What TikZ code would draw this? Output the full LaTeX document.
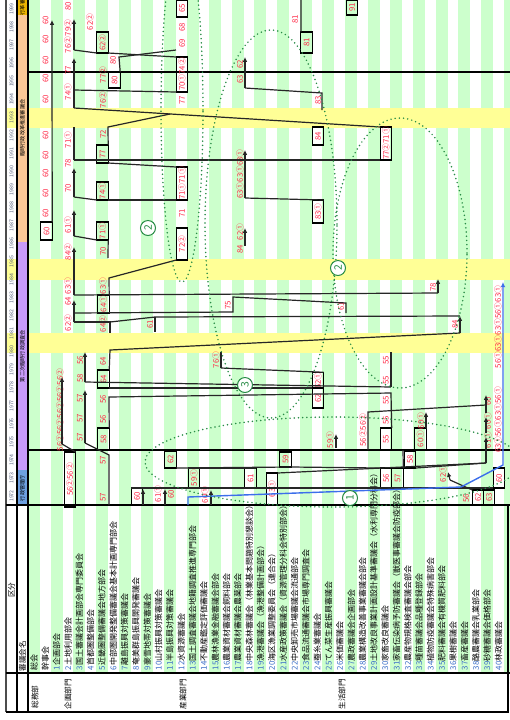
\documentclass[tikz,border=0pt]{standalone}
\usepackage{graphicx}
\usepackage{fontspec}
\setmainfont{Noto Sans CJK JP}
\usetikzlibrary{arrows.meta,positioning,calc,shapes.geometric}
\definecolor{stripegreen}{RGB}{204,255,204}
\definecolor{bandyellow}{RGB}{255,255,150}
\definecolor{eragold}{RGB}{235,180,0}
\definecolor{eraorange}{RGB}{250,200,150}
\definecolor{erapurple}{RGB}{200,155,250}
\definecolor{erablue}{RGB}{110,160,225}
\definecolor{valred}{RGB}{255,40,70}
\definecolor{grpgreen}{RGB}{40,140,70}
\definecolor{flowblue}{RGB}{60,110,235}
\definecolor{yeargray}{RGB}{80,90,120}
\definecolor{numblue}{RGB}{60,110,200}
\newcommand{\up}[1]{\rotatebox{90}{#1}}

\begin{document}
\begin{tikzpicture}[
  x=0.5pt,y=-0.5pt,
  every node/.style={inner sep=0pt,outer sep=0pt},
  val/.style={text=valred,font=\fontsize{3.9}{3.9}\selectfont},
  valbox/.style={val,draw=black,line width=0.6pt,minimum width=5.7pt},
  gridline/.style={draw=black,line width=0.65pt},
  flow/.style={draw=black!85,line width=0.6pt},
  upflow/.style={flow,-{Latex[length=2.4pt,width=2.3pt]}},
  blueflow/.style={draw=flowblue,line width=0.7pt,-{Latex[length=2.6pt,width=2.4pt]}},
  grpring/.style={ellipse,draw=grpgreen,line width=0.85pt,dash pattern=on 0pt off 2.1pt,line cap=round},
  grpnum/.style={circle,draw=grpgreen,text=grpgreen,line width=0.5pt,minimum size=7.5pt,
                 font=\fontsize{5.2}{5.2}\selectfont},
  yearlbl/.style={text=yeargray,font=\fontsize{2.6}{2.6}\selectfont},
  eralbl/.style={font=\fontsize{2.6}{2.6}\selectfont},
  colname/.style={anchor=south,font=\fontsize{4}{4}\selectfont},
  hdrlbl/.style={font=\fontsize{3.8}{3.8}\selectfont},
]
  \useasboundingbox (0,0) rectangle (510,720);
  \clip (0,0) rectangle (510,720);
  % stripes
  \foreach \k in {0,...,21} \fill[stripegreen] ({28+22.65*\k},0) rectangle ++(12,673);
  % highlighted years
  \foreach \ya/\yb in {108/128,259/280,333/353} {
    \fill[bandyellow] (28,\ya) rectangle (510,\yb);
    \fill[bandyellow] (6,\ya) rectangle (17,\yb);
  }
  % era strip
  \fill[eragold] (17,0) rectangle (28,15);
  \fill[eraorange] (17,15) rectangle (28,242);
  \fill[erapurple] (17,242) rectangle (28,470);
  \fill[erablue] (17,470) rectangle (28,505);
  \node[eralbl] (era0) at (22.5,7.5) {\up{行革審}};
  \node[eralbl] (era1) at (22.5,128) {\up{臨時行政改革推進審議会}};
  \node[eralbl] (era2) at (22.5,356) {\up{第二次臨時行政調査会}};
  \node[eralbl] (era3) at (22.5,488) {\up{行政管理庁}};
  % year rows
  \foreach \i in {0,...,27} {
    \pgfmathtruncatemacro{\yr}{1999-\i}
    \node[yearlbl] (yr\i) at (11.5,{9+18.04*\i}) {\up{\yr}};
  }
  % frame
  \draw[gridline,line width=1.1pt,draw=black!70] (6,0) -- (6,712);
  \draw[gridline] (17,0) -- (17,712);
  \draw[gridline] (28,0) -- (28,712);
  \draw[gridline] (28,72) -- (510,72);
  \draw[gridline,line width=0.85pt] (28,450) -- (510,450);
  \draw[gridline] (6,505) -- (510,505);
  \draw[gridline] (6,673) -- (510,673);
  \draw[gridline,line width=0.9pt] (6,712) -- (508,712) -- (508,505);
  % headings
  \node[hdrlbl] (hdr1) at (11.5,590) {\up{区分}};
  \node[hdrlbl] (hdr2) at (22.5,656) {\up{審議会名}};
  \node[hdrlbl] (grp1) at (35,697) {\up{総務部}};
  \node[hdrlbl] (grp2) at (68,694) {\up{企画部門}};
  \node[hdrlbl] (grp3) at (183,694) {\up{産業部門}};
  \node[hdrlbl] (grp4) at (342,694) {\up{生活部門}};
  % council names
  \foreach \i/\t in {0/総会,1/幹事会,
      2/\textcolor{numblue}{1}企画部会,3/\textcolor{numblue}{2}土地利用部会,
      4/\textcolor{numblue}{3}国土審議会計画部会専門委員会,5/\textcolor{numblue}{4}首都圏整備部会,
      6/\textcolor{numblue}{5}近畿圏整備審議会地方部会,7/\textcolor{numblue}{6}中部圏開発整備審議会基本計画専門部会,
      8/\textcolor{numblue}{7}離島振興対策審議会,9/\textcolor{numblue}{8}奄美群島振興開発審議会,
      10/\textcolor{numblue}{9}豪雪地帯対策審議会,11/\textcolor{numblue}{10}山村振興対策審議会,
      12/\textcolor{numblue}{11}半島振興対策審議会,13/\textcolor{numblue}{12}水資源審議会,
      14/\textcolor{numblue}{13}国土調査審議会地籍調査推進専門部会,15/\textcolor{numblue}{14}不動産鑑定評価審議会,
      16/\textcolor{numblue}{15}農林漁業金融審議会部会,17/\textcolor{numblue}{16}農業資材審議会飼料部会,
      18/\textcolor{numblue}{17}農業資材審議会農薬部会,19/\textcolor{numblue}{18}中央森林審議会（林業基本問題特別懇談会）,
      20/\textcolor{numblue}{19}漁港審議会（漁港整備計画部会）,21/\textcolor{numblue}{20}海区漁業調整委員会（連合会）,
      22/\textcolor{numblue}{21}水産政策審議会（資源管理分科会特別部会）,23/\textcolor{numblue}{22}中央卸売市場審議会流通部会,
      24/\textcolor{numblue}{23}食品流通審議会市場専門調査会,25/\textcolor{numblue}{24}蚕糸業審議会,
      26/\textcolor{numblue}{25}てん菜生産振興審議会,27/\textcolor{numblue}{26}米価審議会,
      28/\textcolor{numblue}{27}農政審議会企画部会,29/\textcolor{numblue}{28}農業構造改善事業審議会部会,
      30/\textcolor{numblue}{29}土地改良事業計画設計基準審議会（水利専門分科会）,31/\textcolor{numblue}{30}家畜改良審議会,
      32/\textcolor{numblue}{31}家畜伝染病予防審議会（獣医事審議会防疫部会）,33/\textcolor{numblue}{32}農産物規格検査審議会部会,
      34/\textcolor{numblue}{33}種苗審議会品種登録部会,35/\textcolor{numblue}{34}植物防疫審議会特殊病害部会,
      36/\textcolor{numblue}{35}肥料審議会有機質肥料部会,37/\textcolor{numblue}{36}果樹審議会,
      38/\textcolor{numblue}{37}畜産審議会,39/\textcolor{numblue}{38}酪農審議会乳業部会,
      40/\textcolor{numblue}{39}砂糖審議会価格部会,41/\textcolor{numblue}{40}林政審議会}
    \node[colname] (col\i) at ({34+11.33*\i},670) {\up{\t}};

  % boxed values
  \node[valbox,minimum height=9pt] (b1) at (46.5,231) {\up{60}};
  \node[valbox,minimum height=10.5pt] (b2) at (102.5,42.5) {\up{62②}};
  \node[valbox,minimum height=8pt] (b3) at (114.5,80) {\up{80}};
  \node[valbox,minimum height=9pt] (b4) at (102.5,154) {\up{77}};
  \node[valbox,minimum height=9pt] (b5) at (102.5,191) {\up{74①}};
  \node[valbox,minimum height=9pt] (b6) at (102.5,231) {\up{71①}};
  \node[valbox,minimum height=8.5pt] (b7) at (182,8.5) {\up{65}};
  \node[valbox,minimum height=17.5pt] (b8) at (182,74.5) {\up{70①74②}};
  \node[valbox,minimum height=16.5pt] (b9) at (182,183.5) {\up{71①71①}};
  \node[valbox,minimum height=16pt] (b10) at (182,244) {\up{72②}};
  \node[valbox,minimum height=10.5pt] (b11) at (306.6,42.5) {\up{81}};
  \node[valbox,minimum height=7.5pt] (b12) at (352,7.5) {\up{91}};
  \node[valbox,minimum height=9pt] (b13) at (318,136) {\up{84}};
  \node[valbox,minimum height=11.5pt] (b14) at (318,211.5) {\up{83①}};
  \node[valbox,minimum height=16.5pt] (b15) at (386,143.5) {\up{77②71①}};
  \node[valbox,minimum height=9pt] (b16) at (103.5,304) {\up{64①}};
  \node[valbox,minimum height=9pt] (b17) at (103.5,379) {\up{64}};
  \node[valbox,minimum height=11pt] (b18) at (103.5,439) {\up{58}};
  \node[valbox,minimum height=7.5pt] (b19) at (318,380.5) {\up{62①}};
  \node[valbox,minimum height=10pt] (b20) at (318,398) {\up{62}};
  \node[valbox,minimum height=11pt] (b21) at (386,439) {\up{55}};
  \node[valbox,minimum height=11pt] (b22) at (420.5,439) {\up{60①}};
  \node[valbox,minimum height=27.5pt] (b23) at (70,479.5) {\up{56②56②}};
  \node[valbox,minimum height=8.5pt] (b24) at (137,496.5) {\up{60}};
  \node[valbox,minimum height=10pt] (b25) at (386,478) {\up{56}};
  \node[valbox,minimum height=10pt] (b26) at (397.6,478) {\up{57}};
  \node[valbox,minimum height=10pt] (b27) at (499,478) {\up{60}};
  \node[valbox,minimum height=8.5pt] (b28) at (170.5,459.5) {\up{62}};
  \node[valbox,minimum height=7.5pt] (b29) at (285.5,459.5) {\up{59}};
  \node[valbox,minimum height=10pt] (b30) at (194,478) {\up{59①}};
  \node[valbox,minimum height=10pt] (b31) at (250.5,478) {\up{61}};
  \node[valbox,minimum height=16pt] (b32) at (272,489) {\up{63①}};
  \node[valbox,minimum height=8.5pt] (b33) at (410,459.5) {\up{58}};
  \node[valbox,minimum height=7.5pt] (b34) at (478,497.5) {\up{62}};
  \node[valbox,minimum height=7.5pt] (b35) at (489,497.5) {\up{63}};

  % plain values
  \foreach \y [count=\n] in {20,39,60,78,99,135,155,173,193,213}
    \node[val] (va\n) at (45.5,\y) {\up{60}};
  \foreach \y/\t [count=\n] in {6/80,28/79②,45/76②,70/77,92/74①,140/71①,163/78,188/70,
      225/61①,252/84②,286/63①,301/64,323/62②}
    \node[val] (vc\n) at (68,\y) {\up{\t}};
  \foreach \y/\t [count=\n] in {75/77②,100/76②,134/72,251/70,286/63①,324/64②,361/64,
      399/56,419/56,460/57,497/57}
    \node[val] (vf\n) at (103,\y) {\up{\t}};
  \foreach \y/\t [count=\n] in {360/56,378/58,398/57,418/57,437/57}
    \node[val] (vd\n) at (80,\y) {\up{\t}};
  \foreach \y/\t [count=\n] in {27/68,43/69,100/77,213/71}
    \node[val] (vm\n) at (182,\y) {\up{\t}};
  \foreach \y/\t [count=\n] in {64/62,79/63,174/63①63①63①,232/62①,249/84}
    \node[val] (vs\n) at (240,\y) {\up{\t}};
  \foreach \y/\t [count=\n] in {360/55,380/55,400/55,420/55}
    \node[val] (vr\n) at (386,\y) {\up{\t}};
  \foreach \y/\t [count=\n] in {401/60,421/60①,440/61①}
    \node[val] (vt\n) at (488,\y) {\up{\t}};
  \node[val] (vb1) at (466,498) {\up{56}};
  \node[val] (ve1) at (90,22) {\up{62②}};
  \node[val] (ve2) at (113,60) {\up{80}};
  \node[val] (ve3) at (60,410) {\up{56②56②56②56②56②}};
  \node[val] (ve4) at (228,305) {\up{75}};
  \node[val] (ve5) at (216,360) {\up{76①}};
  \node[val] (ve6) at (295,19) {\up{81}};
  \node[val] (ve7) at (318,100) {\up{83}};
  \node[val] (ve8) at (330,440) {\up{59①}};
  \node[val] (ve9) at (363,430) {\up{56②56②}};
  \node[val] (ve10) at (421,421) {\up{60①}};
  \node[val] (ve11) at (433,287) {\up{78}};
  \node[val] (ve12) at (455,324) {\up{84}};
  \node[val] (ve13) at (443,474) {\up{62①}};
  \node[val] (ve14) at (158,494) {\up{61①}};
  \node[val] (ve15) at (205,495) {\up{60①}};
  \node[val] (ve16) at (498,327) {\up{56①63①63①56①63①}};
  \node[val] (ve17) at (498,420) {\up{63①56①63①56①}};
  \node[val] (ve18) at (150,324) {\up{61}};
  \node[val] (ve19) at (341,306) {\up{61}};
  \node[val] (ve20) at (171,494) {\up{60}};

  % chain points
  \coordinate (k0b) at (52,20);
  \coordinate (k1a) at (74,50);   \coordinate (k1b) at (74,19);
  \coordinate (k2a) at (74,108);  \coordinate (k2b) at (74,58);  \coordinate (k2c) at (74,90);
  \coordinate (k3a) at (74,160);  \coordinate (k3b) at (74,127);
  \coordinate (k4a) at (74,197);  \coordinate (k4b) at (74,168);
  \coordinate (k5a) at (74,236);  \coordinate (k5b) at (74,210);
  \coordinate (k6a) at (74,295);  \coordinate (k6b) at (74,247);
  \coordinate (k7a) at (74,322);  \coordinate (k7b) at (74,300);  \coordinate (k7c) at (74,313);
  \coordinate (k8a) at (119,57);  \coordinate (k8b) at (176,50);
  \coordinate (k9a) at (245,88);  \coordinate (k9b) at (245,57);  \coordinate (k9c) at (322,93);
  \coordinate (k9d) at (322,110);
  \coordinate (k10a) at (245,198); \coordinate (k10b) at (245,150);
  \coordinate (k11a) at (245,246); \coordinate (k11b) at (245,228);
  \coordinate (k12) at (301,0);
  \coordinate (k13a) at (108,127); \coordinate (k13b) at (170,114);
  \coordinate (k14a) at (233,312); \coordinate (k14b) at (233,297);
  \coordinate (k14c) at (346,303); \coordinate (k14d) at (346,313);
  \coordinate (k15a) at (438,293); \coordinate (k15b) at (438,279);
  \coordinate (k16a) at (460,333); \coordinate (k16b) at (460,316);
  \coordinate (k17a) at (110,350); \coordinate (k17b) at (109,278); \coordinate (k17c) at (108,258);
  \coordinate (k17d) at (110,322); \coordinate (k17e) at (110,333);
  \coordinate (k17f) at (155,317); \coordinate (k17g) at (155,332);
  \coordinate (k18a) at (85,382);  \coordinate (k18b) at (85,352);
  \coordinate (k19a) at (391,387); \coordinate (k19b) at (391,352);
  \coordinate (k20a) at (85,443);  \coordinate (k20b) at (85,390);  \coordinate (k20c) at (109,455);
  \coordinate (k20d) at (109,505);
  \coordinate (k21a) at (62,444);  \coordinate (k21b) at (62,377);
  \coordinate (k22a) at (109,397); \coordinate (k22b) at (391,393);
  \coordinate (k23a) at (221,368); \coordinate (k23b) at (221,352);
  \coordinate (k24a) at (368,450); \coordinate (k24b) at (368,412); \coordinate (k24c) at (486,405);
  \coordinate (k25a) at (486,463); \coordinate (k25b) at (486,437);
  \coordinate (k25c) at (486,433); \coordinate (k25d) at (486,417);
  \coordinate (k25e) at (486,413); \coordinate (k25f) at (486,395);
  \coordinate (k26a) at (426,428); \coordinate (k26b) at (426,412);
  \coordinate (k27a) at (143,505); \coordinate (k27b) at (143,489);
  \coordinate (k28a) at (165,505); \coordinate (k28b) at (165,489);
  \coordinate (k28c) at (211,505); \coordinate (k28d) at (211,490);
  \coordinate (k29a) at (403,450);
  \coordinate (k30a) at (448,472); \coordinate (k30b) at (450,480);
  \coordinate (k31a) at (336,448); \coordinate (k31b) at (336,434);
  % flow lines
  \draw[upflow] (b1.north east) -- (k0b);
  \draw[upflow] (k1a) -- (k1b);
  \draw[flow] (k1a) -- (b2.south west);
  \draw[upflow] (k2a) -- (k2b);
  \draw[flow] (k2c) -- (b8.south west);
  \draw[flow] (k2a) -- (b15.north west);
  \draw[flow] (k3a) -- (k3b);
  \draw[flow] (k3a) -- (b15.south west);
  \draw[upflow] (k4a) -- (k4b);
  \draw[flow] (k4a) -- (b5.south west);
  \draw[upflow] (k5a) -- (k5b);
  \draw[flow] (k5a) -- (b6.south west);
  \draw[upflow] (k6a) -- (k6b);
  \draw[flow] (k6a) -- (k15a);
  \draw[upflow] (k15a) -- (k15b);
  \draw[upflow] (k7a) -- (k7b);
  \draw[flow] (k7c) -- (k14a) -- (k14b) -- (k14c) -- (k14d);
  \draw[flow] (k7a) -- (k17d) -- (k17e);
  \draw[flow] (k17d) -- (k17f) -- (k16b);
  \draw[flow] (k17f) -- (k17g);
  \draw[upflow] (k16a) -- (k16b);
  \draw[flow] (k16a) -- (k17a) -- (b17.north east);
  \draw[flow] (b2.south east) -- (b8.north west);
  \draw[flow] (b3.north east) -- (k8a) -- (k8b);
  \draw[flow] (b4.north east) -- (k13a) -- (k13b);
  \draw[flow] (b4.south east) -- (b9.north west);
  \draw[flow] (b5.south east) -- (b9.south west);
  \draw[flow] (b6.south east) -- (k17c);
  \draw[upflow] (k9a) -- (k9b);
  \draw[flow] (k9a) -- (k9c) -- (k9d);
  \draw[upflow] (k10a) -- (k10b);
  \draw[flow] (k10a) -- (b14.north east);
  \draw[upflow] (k11a) -- (k11b);
  \draw[flow] (b11.north west) -- (k12);
  \draw[flow] (b16.north east) -- (k17b) -- (b10.south west);
  \draw[upflow] (k18a) -- (k18b);
  \draw[flow] (k19a) -- (k19b);
  \draw[flow] (k18a) -- (k19a);
  \draw[flow] (b17.south east) -- (b20.north west);
  \draw[upflow] (k20a) -- (k20b);
  \draw[flow] (k20a) -- (k20c) -- (k20d);
  \draw[upflow] (k21a) -- (k21b);
  \draw[flow] (k21a) -- (b23.north east);
  \draw[flow] (b18.north east) -- (k22a) -- (k22b) -- (b21.north east);
  \draw[flow] (k23a) -- (k23b);
  \draw[flow] (k23a) -- (b19.north east);
  \draw[flow] (k24a) -- (k24b) -- (k24c);
  \draw[upflow] (k25a) -- (k25b);
  \draw[upflow] (k25c) -- (k25d);
  \draw[upflow] (k25e) -- (k25f);
  \draw[flow] (b22.north east) -- (k26a);
  \draw[upflow] (k26a) -- (k26b);
  \draw[upflow] (k27a) -- (k27b);
  \draw[upflow] (k28a) -- (k28b);
  \draw[upflow] (k28c) -- (k28d);
  \draw[upflow] (k31a) -- (k31b);
  \draw[flow] (b24.north west) -- (b27.south west);
  \draw[flow] (b26.north east) -- (k29a);
  \draw[flow] (b28.south east) -- (b29.south east) -- (b25.north west);
  \draw[flow] (b30.north west) -- (b31.north east);
  \draw[flow] (b32.north east) -- (k25a);
  \draw[flow] (b33.south east) -- (k25a);
  \draw[upflow] (k30b) -- (k30a);
  \draw[flow] (k30b) -- (b34.north west);
  % blue route
  \coordinate (q1) at (188,505); \coordinate (q2) at (188,497); \coordinate (q3) at (461,487);
  \coordinate (q4) at (503,465); \coordinate (q5) at (503,282);
  \draw[blueflow] (q1) -- (q2) -- (q3) -- (q4) -- (q5);

  % groups
  \node[grpring,minimum width=21pt,minimum height=172pt] (ring2a) at (182,110) {};
  \node[grpring,minimum width=66pt,minimum height=194pt] (ring3) at (271,224) {};
  \node[grpring,minimum width=67pt,minimum height=135pt] (ring2b) at (400,253) {};
  \node[grpring,minimum width=188pt,minimum height=45pt] (ring1) at (333,462) {};
  \node[grpnum,fill=white] (num2a) at (148,228) {\up{2}};
  \node[grpnum,fill=white] (num3) at (245,385) {\up{3}};
  \node[grpnum,fill=white] (num2b) at (338,268) {\up{2}};
  \node[grpnum,fill=white] (num1) at (350,498) {\up{1}};
\end{tikzpicture}
\end{document}
